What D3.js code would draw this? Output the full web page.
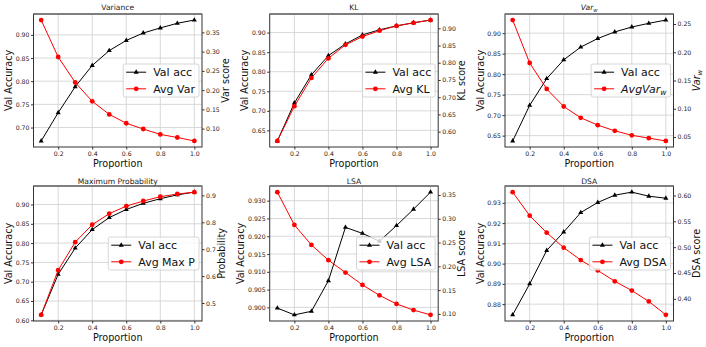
<!DOCTYPE html>
<html>
<head>
<meta charset="utf-8">
<script src="https://cdn.jsdelivr.net/npm/d3@7"></script>
<style>
body{margin:0;background:#fff;}
svg{display:block;font-family:"DejaVu Sans",sans-serif;}
</style>
</head>
<body>
<div id="chart"></div>
<script>
//x values shared by every panel
const proportion = [0.1,0.2,0.3,0.4,0.5,0.6,0.7,0.8,0.9,1.0];
const xTicks = ["0.2","0.4","0.6","0.8","1.0"];

//Variance
const varianceAcc   = [0.671,0.732,0.788,0.834,0.866,0.888,0.904,0.915,0.925,0.932];
const varianceScore = [0.382,0.286,0.220,0.171,0.137,0.114,0.099,0.085,0.077,0.068];
const varianceLeftTicks  = ["0.70","0.75","0.80","0.85","0.90"];
const varianceRightTicks = ["0.10","0.15","0.20","0.25","0.30","0.35"];

//KL
const klAcc   = [0.623,0.720,0.792,0.841,0.871,0.894,0.907,0.917,0.925,0.932];
const klScore = [0.573,0.674,0.756,0.813,0.852,0.876,0.893,0.907,0.916,0.924];
const klLeftTicks  = ["0.65","0.70","0.75","0.80","0.85","0.90"];
const klRightTicks = ["0.60","0.65","0.70","0.75","0.80","0.85","0.90"];

//Var_w
const varwAcc   = [0.637,0.724,0.789,0.835,0.866,0.887,0.903,0.915,0.924,0.932];
const varwScore = [0.257,0.181,0.135,0.104,0.084,0.071,0.061,0.053,0.048,0.043];
const varwLeftTicks  = ["0.65","0.70","0.75","0.80","0.85","0.90"];
const varwRightTicks = ["0.05","0.10","0.15","0.20","0.25"];

//Maximum Probability
const maxpAcc   = [0.614,0.719,0.787,0.835,0.866,0.887,0.903,0.915,0.925,0.932];
const maxpScore = [0.456,0.622,0.726,0.791,0.832,0.860,0.879,0.895,0.905,0.912];
const maxpLeftTicks  = ["0.60","0.65","0.70","0.75","0.80","0.85","0.90"];
const maxpRightTicks = ["0.5","0.6","0.7","0.8","0.9"];

//LSA
const lsaAcc   = [0.8998,0.8979,0.8989,0.9075,0.9225,0.9208,0.9186,0.9230,0.9276,0.9324];
const lsaScore = [0.356,0.287,0.245,0.213,0.187,0.161,0.139,0.121,0.108,0.098];
const lsaLeftTicks  = ["0.900","0.905","0.910","0.915","0.920","0.925","0.930"];
const lsaRightTicks = ["0.10","0.15","0.20","0.25","0.30","0.35"];

//DSA
const dsaAcc   = [0.8747,0.8900,0.9065,0.9156,0.9252,0.9302,0.9338,0.9353,0.9333,0.9323];
const dsaScore = [0.6065,0.561,0.528,0.499,0.475,0.455,0.434,0.416,0.395,0.369];
const dsaLeftTicks  = ["0.88","0.89","0.90","0.91","0.92","0.93"];
const dsaRightTicks = ["0.40","0.45","0.50","0.55","0.60"];

const panels = [
  {title:"Variance", acc:varianceAcc, score:varianceScore, lt:varianceLeftTicks, rt:varianceRightTicks, legend:"Avg Var", rlabel:"Var score"},
  {title:"KL", acc:klAcc, score:klScore, lt:klLeftTicks, rt:klRightTicks, legend:"Avg KL", rlabel:"KL score"},
  {title:"Var_w", acc:varwAcc, score:varwScore, lt:varwLeftTicks, rt:varwRightTicks, legend:"AvgVar_w", rlabel:"Var_w", math:true},
  {title:"Maximum Probability", acc:maxpAcc, score:maxpScore, lt:maxpLeftTicks, rt:maxpRightTicks, legend:"Avg Max P", rlabel:"Probability"},
  {title:"LSA", acc:lsaAcc, score:lsaScore, lt:lsaLeftTicks, rt:lsaRightTicks, legend:"Avg LSA", rlabel:"LSA score"},
  {title:"DSA", acc:dsaAcc, score:dsaScore, lt:dsaLeftTicks, rt:dsaRightTicks, legend:"Avg DSA", rlabel:"DSA score"}
];

const w = 706, h = 347;
const colLeft = [33.5,269.7,505];
const plotW = 168.5;
const rowTop = [14,186];
const rowH = [133,135];
const tickFont = 6.2;

const svg = d3.select("#chart").append("svg")
    .attr("width",w).attr("height",h);

//pad a domain by 5% like matplotlib autoscale
function padded(vals){
  const [a,b] = d3.extent(vals);
  const m = (b-a)*0.05;
  return [a-m,b+m];
}

//write text, turning "_w" into italic subscript
function mathText(sel,str,math,size){
  if(!math){ sel.text(str); return; }
  const parts = str.split("_");
  sel.append("tspan").style("font-style","italic").text(parts[0]);
  sel.append("tspan").style("font-style","italic")
     .attr("font-size",size*0.7).attr("dy",size*0.2).text(parts[1]);
}

panels.forEach((p,i)=>{
  const row = Math.floor(i/3);
  const left = colLeft[i%3], top = rowTop[row], ph = rowH[row];
  const g = svg.append("g").attr("transform","translate("+left+","+top+")");

  const x = d3.scaleLinear().domain(padded(proportion)).range([0,plotW]);
  const yL = d3.scaleLinear().domain(padded(p.acc)).range([ph,0]);
  const yR = d3.scaleLinear().domain(padded(p.score)).range([ph,0]);

  //grid
  g.selectAll(".gx").data(xTicks).enter().append("line")
    .attr("x1",d=>x(+d)).attr("x2",d=>x(+d)).attr("y1",0).attr("y2",ph)
    .attr("stroke","#d4d4d4").attr("stroke-width",0.9);
  g.selectAll(".gy").data(p.lt).enter().append("line")
    .attr("y1",d=>yL(+d)).attr("y2",d=>yL(+d)).attr("x1",0).attr("x2",plotW)
    .attr("stroke","#d4d4d4").attr("stroke-width",0.9);

  //axes
  const xAxis = d3.axisBottom(x).tickValues(xTicks.map(Number)).tickFormat((d,k)=>xTicks[k]).tickSize(2.5).tickPadding(2);
  const lAxis = d3.axisLeft(yL).tickValues(p.lt.map(Number)).tickFormat((d,k)=>p.lt[k]).tickSize(2.5).tickPadding(1.5);
  const rAxis = d3.axisRight(yR).tickValues(p.rt.map(Number)).tickFormat((d,k)=>p.rt[k]).tickSize(2.5).tickPadding(1.5);

  const axisGroups = [[xAxis,"translate(0,"+ph+")"],[lAxis,null],[rAxis,"translate("+plotW+",0)"]].map(a=>{
    const ag = g.append("g").call(a[0]);
    if(a[1]) ag.attr("transform",a[1]);
    ag.select(".domain").remove();
    ag.selectAll("line").attr("stroke","#333");
    ag.selectAll("text").attr("font-size",tickFont).attr("fill","#222")
      .attr("font-family","DejaVu Sans");
    return ag;
  });
  //widest tick label on each side, for placing y labels
  const lw = d3.max(axisGroups[1].selectAll("text").nodes(),n=>n.getComputedTextLength());
  const rw = d3.max(axisGroups[2].selectAll("text").nodes(),n=>n.getComputedTextLength());

  const lineL = d3.line().x((d,k)=>x(proportion[k])).y(d=>yL(d));
  const lineR = d3.line().x((d,k)=>x(proportion[k])).y(d=>yR(d));
  const tri = d3.symbol().type(d3.symbolTriangle).size(11);

  g.append("path").attr("d",lineL(p.acc)).attr("fill","none").attr("stroke","#000").attr("stroke-width",1);
  g.selectAll(".tri").data(p.acc).enter().append("path")
    .attr("d",tri).attr("transform",(d,k)=>"translate("+x(proportion[k])+","+yL(d)+")")
    .attr("fill","#000");

  g.append("path").attr("d",lineR(p.score)).attr("fill","none").attr("stroke","#ff0000").attr("stroke-width",1);
  g.selectAll(".dot").data(p.score).enter().append("circle")
    .attr("cx",(d,k)=>x(proportion[k])).attr("cy",d=>yR(d)).attr("r",2.4)
    .attr("fill","#ff0000");

  //frame
  g.append("rect").attr("width",plotW).attr("height",ph)
    .attr("fill","none").attr("stroke","#333").attr("stroke-width",1);
  g.append("line").attr("x1",0).attr("x2",plotW).attr("y1",0).attr("y2",0)
    .attr("stroke","#777").attr("stroke-width",1.6);

  //title
  const t = g.append("text").attr("x",plotW/2).attr("y",row==0 ? -4 : -2.5)
    .attr("text-anchor","middle").attr("font-size",7.6).attr("fill","#222");
  mathText(t,p.title,p.math,7.6);

  //axis labels
  g.append("text").attr("x",plotW/2).attr("y",ph+19.5).attr("text-anchor","middle")
    .attr("font-size",9.6).attr("fill","#111").text("Proportion");
  const lx = -(2.5+1.5+lw+3.5);
  g.append("text").attr("transform","translate("+lx+","+(ph/2)+") rotate(-90)")
    .attr("text-anchor","middle").attr("font-size",9.6).attr("fill","#111").text("Val Accuracy");
  const rx = plotW+2.5+1.5+rw+2+7.2;
  const rl = g.append("text").attr("transform","translate("+rx+","+(ph/2)+") rotate(-90)")
    .attr("text-anchor","middle").attr("font-size",9.6).attr("fill","#111");
  mathText(rl,p.rlabel,p.math,9.6);

  //legend
  const lg = g.append("g");
  const box = lg.append("rect").attr("rx",2).attr("fill","#fff").attr("fill-opacity",0.8)
    .attr("stroke","#ccc").attr("stroke-width",0.8);
  const entries = [{label:"Val acc",color:"#000",tri:true},{label:p.legend,color:"#ff0000",tri:false}];
  let maxW = 0;
  entries.forEach((e,k)=>{
    const cy = ph/2 + (k==0 ? -8.3 : 8.3);
    e.cy = cy;
    const tx = lg.append("text").attr("y",cy+4).attr("font-size",11).attr("fill","#111");
    mathText(tx,e.label,p.math && k==1,11);
    e.node = tx;
    maxW = Math.max(maxW, tx.node().getComputedTextLength());
  });
  const bw = 3 + 20 + 7 + maxW + 4;
  const bx = plotW - 3 - bw;
  box.attr("x",bx).attr("y",ph/2-16.5).attr("width",bw).attr("height",33);
  entries.forEach(e=>{
    e.node.attr("x",bx+30);
    lg.append("line").attr("x1",bx+3).attr("x2",bx+23).attr("y1",e.cy).attr("y2",e.cy)
      .attr("stroke",e.color).attr("stroke-width",1);
    if(e.tri){
      lg.append("path").attr("d",tri).attr("transform","translate("+(bx+13)+","+e.cy+")").attr("fill",e.color);
    }else{
      lg.append("circle").attr("cx",bx+13).attr("cy",e.cy).attr("r",2.4).attr("fill",e.color);
    }
  });
});
</script>
</body>
</html>
